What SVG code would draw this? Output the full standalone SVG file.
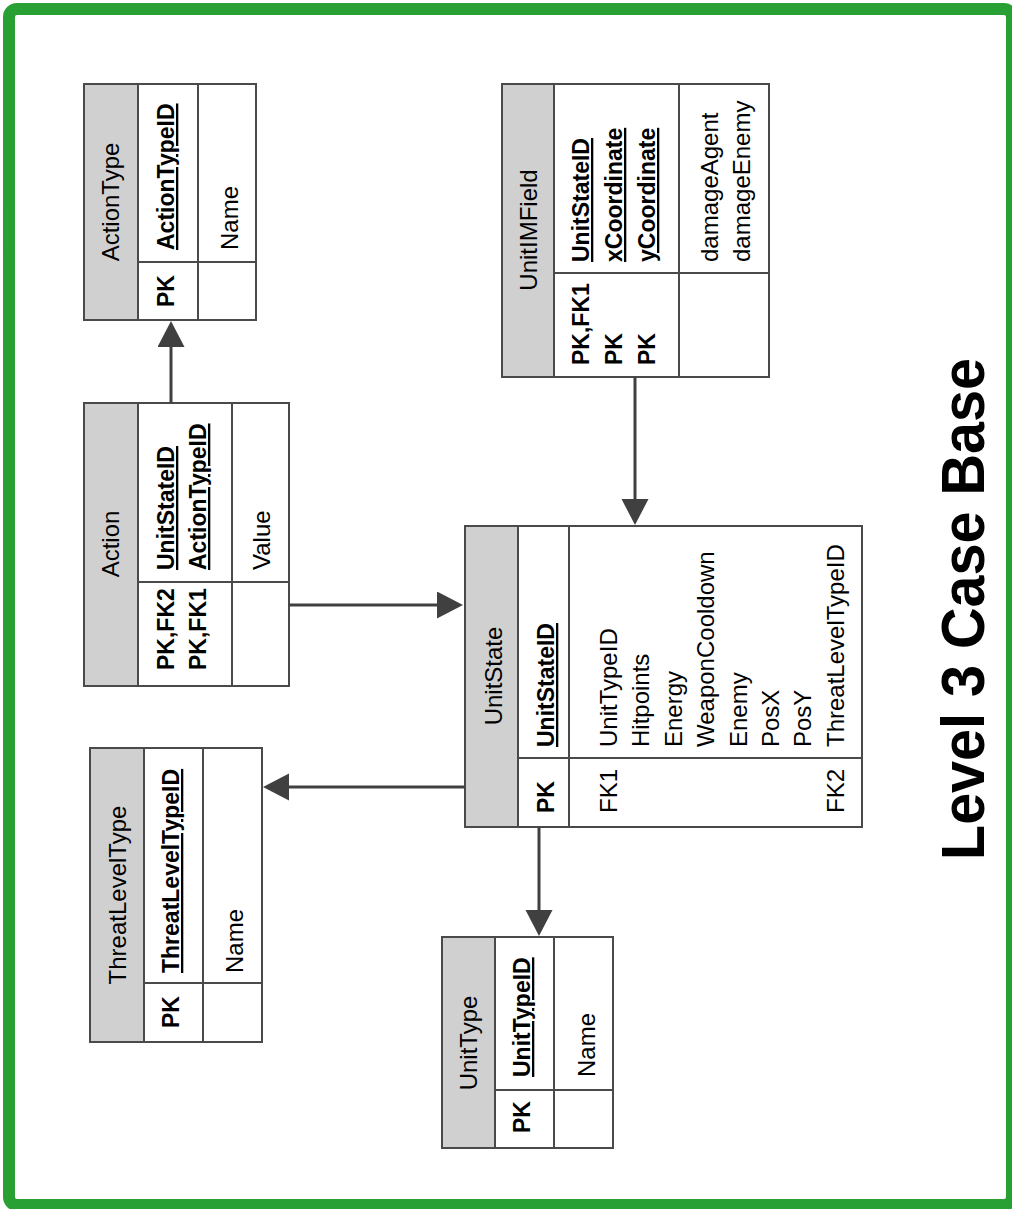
<svg xmlns="http://www.w3.org/2000/svg" width="1012" height="1209" viewBox="0 0 1012 1209">
  <style>
    .frame { fill: #ffffff; stroke: #29a033; stroke-width: 12; }
    .tbl { fill: #ffffff; stroke: #4a4a4a; stroke-width: 2; }
    .hdr { fill: #d0d0d0; stroke: #4a4a4a; stroke-width: 2; }
    .sep { stroke: #4a4a4a; stroke-width: 2; fill: none; }
    .conn { stroke: #404040; stroke-width: 3; fill: none; marker-end: url(#arrow); }
    text { font-family: "Liberation Sans", Arial, sans-serif; fill: #000000; }
    .name { font-size: 24px; text-anchor: middle; }
    .key { font-size: 23px; font-weight: bold; text-decoration: underline; }
    .flag { font-size: 23px; font-weight: bold; }
    .fld { font-size: 24px; }
    .title { font-size: 62px; font-weight: bold; text-anchor: middle; }
  </style>
  <defs>
    <marker id="arrow" markerUnits="userSpaceOnUse" markerWidth="28" markerHeight="28" refX="14" refY="13.5" orient="auto">
      <path d="M0,0 L26,13.5 L0,27 Z" fill="#404040"/>
    </marker>
  </defs>

  <!-- outer green frame -->
  <rect class="frame" x="9" y="9" width="1003" height="1196" rx="8"/>

  <!-- ActionType -->
  <g id="ActionType">
    <rect class="tbl" x="84" y="84" width="172" height="236"/>
    <rect class="hdr" x="84" y="84" width="54" height="236"/>
    <line class="sep" x1="198" y1="84" x2="198" y2="320"/>
    <line class="sep" x1="138" y1="262" x2="256" y2="262"/>
    <text class="name" transform="translate(119,202) rotate(-90)">ActionType</text>
    <text class="key" transform="translate(174,250) rotate(-90)">ActionTypeID</text>
    <text class="flag" transform="translate(174,307) rotate(-90)">PK</text>
    <text class="fld" transform="translate(238,250) rotate(-90)">Name</text>
  </g>

  <!-- Action -->
  <g id="Action">
    <rect class="tbl" x="84" y="403" width="205" height="283"/>
    <rect class="hdr" x="84" y="403" width="54" height="283"/>
    <line class="sep" x1="232" y1="403" x2="232" y2="686"/>
    <line class="sep" x1="138" y1="582" x2="289" y2="582"/>
    <text class="name" transform="translate(119,544) rotate(-90)">Action</text>
    <text class="key" transform="translate(174,570) rotate(-90)">UnitStateID</text>
    <text class="key" transform="translate(206,570) rotate(-90)">ActionTypeID</text>
    <text class="flag" transform="translate(174,670) rotate(-90)">PK,FK2</text>
    <text class="flag" transform="translate(206,670) rotate(-90)">PK,FK1</text>
    <text class="fld" transform="translate(270,570) rotate(-90)">Value</text>
  </g>

  <!-- UnitIMField -->
  <g id="UnitIMField">
    <rect class="tbl" x="502" y="84" width="267" height="293"/>
    <rect class="hdr" x="502" y="84" width="52" height="293"/>
    <line class="sep" x1="679" y1="84" x2="679" y2="377"/>
    <line class="sep" x1="554" y1="273" x2="769" y2="273"/>
    <text class="name" transform="translate(537,230) rotate(-90)">UnitIMField</text>
    <text class="key" transform="translate(589,262) rotate(-90)">UnitStateID</text>
    <text class="key" transform="translate(622,262) rotate(-90)">xCoordinate</text>
    <text class="key" transform="translate(655,262) rotate(-90)">yCoordinate</text>
    <text class="flag" transform="translate(589,365) rotate(-90)">PK,FK1</text>
    <text class="flag" transform="translate(622,365) rotate(-90)">PK</text>
    <text class="flag" transform="translate(655,365) rotate(-90)">PK</text>
    <text class="fld" transform="translate(718,262) rotate(-90)">damageAgent</text>
    <text class="fld" transform="translate(750,262) rotate(-90)">damageEnemy</text>
  </g>

  <!-- UnitState -->
  <g id="UnitState">
    <rect class="tbl" x="465" y="526" width="397" height="301"/>
    <rect class="hdr" x="465" y="526" width="53" height="301"/>
    <line class="sep" x1="569" y1="526" x2="569" y2="827"/>
    <line class="sep" x1="518" y1="758" x2="862" y2="758"/>
    <text class="name" transform="translate(502,676) rotate(-90)">UnitState</text>
    <text class="key" transform="translate(554,747) rotate(-90)">UnitStateID</text>
    <text class="flag" transform="translate(554,813) rotate(-90)">PK</text>
    <text class="fld" transform="translate(617,747) rotate(-90)">UnitTypeID</text>
    <text class="fld" transform="translate(649,747) rotate(-90)">Hitpoints</text>
    <text class="fld" transform="translate(682,747) rotate(-90)">Energy</text>
    <text class="fld" transform="translate(714,747) rotate(-90)">WeaponCooldown</text>
    <text class="fld" transform="translate(747,747) rotate(-90)">Enemy</text>
    <text class="fld" transform="translate(779,747) rotate(-90)">PosX</text>
    <text class="fld" transform="translate(811,747) rotate(-90)">PosY</text>
    <text class="fld" transform="translate(844,747) rotate(-90)">ThreatLevelTypeID</text>
    <text class="fld" transform="translate(617,813) rotate(-90)">FK1</text>
    <text class="fld" transform="translate(844,813) rotate(-90)">FK2</text>
  </g>

  <!-- ThreatLevelType -->
  <g id="ThreatLevelType">
    <rect class="tbl" x="90" y="748" width="172" height="294"/>
    <rect class="hdr" x="90" y="748" width="54" height="294"/>
    <line class="sep" x1="203" y1="748" x2="203" y2="1042"/>
    <line class="sep" x1="144" y1="983" x2="262" y2="983"/>
    <text class="name" transform="translate(126,895) rotate(-90)">ThreatLevelType</text>
    <text class="key" transform="translate(179,973) rotate(-90)">ThreatLevelTypeID</text>
    <text class="flag" transform="translate(179,1028) rotate(-90)">PK</text>
    <text class="fld" transform="translate(243,973) rotate(-90)">Name</text>
  </g>

  <!-- UnitType -->
  <g id="UnitType">
    <rect class="tbl" x="442" y="937" width="171" height="211"/>
    <rect class="hdr" x="442" y="937" width="53" height="211"/>
    <line class="sep" x1="554" y1="937" x2="554" y2="1148"/>
    <line class="sep" x1="495" y1="1090" x2="613" y2="1090"/>
    <text class="name" transform="translate(477,1043) rotate(-90)">UnitType</text>
    <text class="key" transform="translate(530,1077) rotate(-90)">UnitTypeID</text>
    <text class="flag" transform="translate(530,1133) rotate(-90)">PK</text>
    <text class="fld" transform="translate(595,1077) rotate(-90)">Name</text>
  </g>

  <!-- relationships (arrow points at the referenced table) -->
  <g id="connectors">
    <line class="conn" x1="171" y1="403" x2="171" y2="333"/>
    <line class="conn" x1="289" y1="605" x2="451" y2="605"/>
    <line class="conn" x1="635" y1="377" x2="635" y2="513"/>
    <line class="conn" x1="465" y1="787" x2="275" y2="787"/>
    <line class="conn" x1="539" y1="827" x2="539" y2="924"/>
  </g>

  <!-- caption -->
  <text class="title" transform="translate(984,609) rotate(-90)" textLength="502" lengthAdjust="spacingAndGlyphs">Level 3 Case Base</text>
</svg>
